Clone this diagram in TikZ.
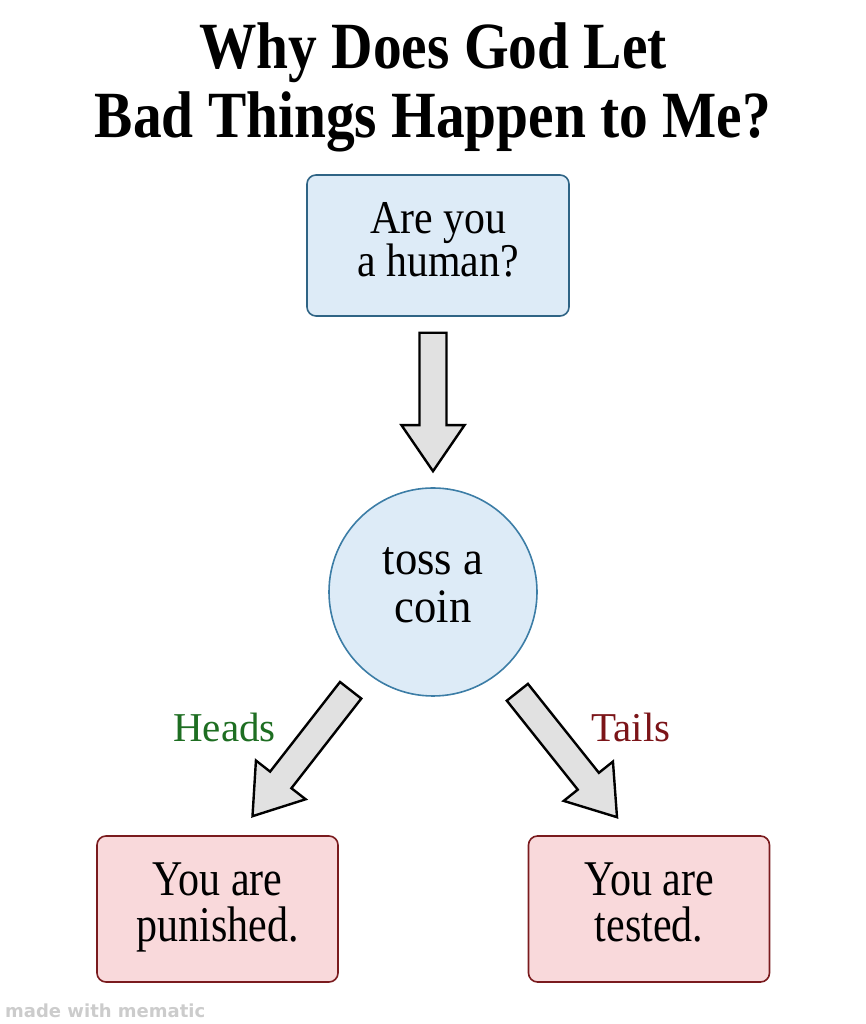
\documentclass[tikz,border=0pt]{standalone}
\usepackage{fontspec}
\setmainfont{Liberation Serif}
\newfontfamily\titlefont[FakeStretch=0.87]{Liberation Serif}
\newfontfamily\qfont[FakeStretch=0.89]{Liberation Serif}
\newfontfamily\cfont[FakeStretch=0.93]{Liberation Serif}
\newfontfamily\rfont[FakeStretch=0.84]{Liberation Serif}
\newfontfamily\wmfont{DejaVu Sans}
\usetikzlibrary{positioning,calc}
\definecolor{qfill}{HTML}{DDEBF7}
\definecolor{qline}{HTML}{2F6485}
\definecolor{cline}{HTML}{3C7DA6}
\definecolor{rfill}{HTML}{F9D9DB}
\definecolor{rline}{HTML}{7A1B1E}
\definecolor{afill}{HTML}{E1E1E1}
\definecolor{headsc}{HTML}{1E6E22}
\definecolor{tailsc}{HTML}{7B1418}

\begin{document}
\begin{tikzpicture}[x=1pt,y=1pt,
  qb/.style={font=\fontsize{47}{43}\qfont,align=center,
             execute at begin node=\strut,execute at end node=\strut,
             draw=qline,fill=qfill,line width=1.6pt,rounded corners=9pt,
             minimum width=262pt,minimum height=141pt,inner sep=0pt},
  cb/.style={font=\fontsize{48}{48}\cfont,align=center,
             execute at begin node=\strut,execute at end node=\strut,
             circle,draw=cline,fill=qfill,line width=1.6pt,
             minimum size=208pt,inner sep=0pt},
  rb/.style={font=\fontsize{50}{46}\rfont,align=center,
             execute at begin node={\rule{0pt}{47.8pt}},execute at end node=\strut,
             draw=rline,fill=rfill,line width=1.6pt,rounded corners=9pt,
             minimum width=241pt,minimum height=146pt,inner sep=0pt},
  lbl/.style={font=\fontsize{41}{42}\selectfont,anchor=base},
  blk/.style={draw=black,fill=afill,line width=2.4pt,line join=miter,
    to path={let \p1=($(\tikztotarget)!46pt!(\tikztostart)$) in
      ($(\tikztostart)!13.5pt!90:(\tikztotarget)$) -- ($(\p1)!13.5pt!-90:(\tikztostart)$)
      -- ($(\p1)!31.5pt!-90:(\tikztostart)$) -- (\tikztotarget)
      -- ($(\p1)!31.5pt!90:(\tikztostart)$) -- ($(\p1)!13.5pt!90:(\tikztostart)$)
      -- ($(\tikztostart)!13.5pt!-90:(\tikztotarget)$) -- cycle}}]
\useasboundingbox (0,0) rectangle (866,1024);
\node[font=\fontsize{66}{69}\titlefont\bfseries,align=center] (title) at (433,937)
  {Why Does God Let\\Bad Things Happen to Me?};
\node[qb] (ask) at (438,778.5) {Are you\\a human?};
\node[cb] (coin) at (433,432) {toss a\\coin};
\node[rb] (pun) at (217.5,115) {You are\\punished.};
\node[rb] (test) at (649,115) {You are\\tested.};
\node[lbl,text=headsc] (heads) at (224.5,282) {Heads};
\node[lbl,text=tailsc] (tails) at (631,282) {Tails};
\node[font=\fontsize{18}{20}\selectfont\wmfont\bfseries,text=gray!40,
      anchor=base west,inner sep=0pt] (wm) at (5,6) {made with mematic};
\draw[blk] ($(ask.south)+(-5,-16)$) to ($(coin.north)+(0,16)$);
\draw[blk] ($(coin.230)+(-15,-18)$) to ($(pun.north)+(35,19)$);
\draw[blk] ($(coin.310)+(17,-20)$) to ($(test.north)+(-32,18)$);
\end{tikzpicture}
\end{document}
